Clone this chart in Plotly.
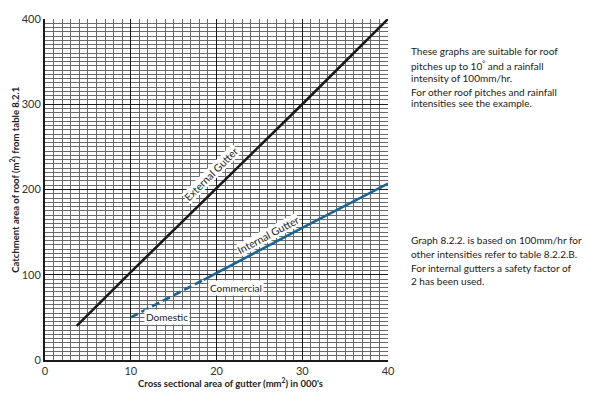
import plotly.graph_objects as go

# ---- data ----
external_x = [3.7, 10, 30, 40]
external_y = [40, 103, 300, 400]
domestic_x = [10, 18.5]
domestic_y = [50, 94]
commercial_x = [18.5, 20, 30, 40]
commercial_y = [94, 102, 155, 207]
x_ticks = [0, 10, 20, 30, 40]
y_ticks = [0, 100, 200, 300, 400]

FONT = "Lato"
BLUE = "#1c6396"
TXT = "#222222"

fig = go.Figure()
fig.add_trace(go.Scatter(x=external_x, y=external_y, mode="lines",
                         line=dict(color="#1a1a1a", width=2.6), hoverinfo="skip"))
fig.add_trace(go.Scatter(x=domestic_x, y=domestic_y, mode="lines",
                         line=dict(color=BLUE, width=2.6, dash="8px,4px"), hoverinfo="skip"))
fig.add_trace(go.Scatter(x=commercial_x, y=commercial_y, mode="lines",
                         line=dict(color=BLUE, width=2.6), hoverinfo="skip"))

axis_common = dict(showline=True, linecolor="#1a1a1a", linewidth=2, zeroline=False,
                   gridcolor="#1a1a1a", gridwidth=1.4, ticks="",
                   tickfont=dict(family=FONT, size=11, color="#333333"))

fig.update_xaxes(range=[0, 40], tickvals=x_ticks, ticktext=[str(v) for v in x_ticks],
                 minor=dict(dtick=1, showgrid=True, gridcolor="#6a6a6a", gridwidth=0.8),
                 **axis_common)
fig.update_yaxes(range=[0, 400], tickvals=y_ticks, ticktext=[str(v) for v in y_ticks],
                 minor=dict(dtick=5, showgrid=True, gridcolor="#6a6a6a", gridwidth=0.8),
                 **axis_common)

L, R, T, B = 45, 201, 12, 37
W, H = 589, 397
pw, ph = W - L - R, H - T - B

def px_to_paper(xp, yp):
    return (xp - L) / pw, (H - yp - B) / ph

ann = []
# axis titles
xt_x, xt_y = px_to_paper(230, 383)
ann.append(dict(x=xt_x, y=xt_y, xref="paper", yref="paper", xanchor="center", yanchor="middle",
                text="<b>Cross sectional area of gutter (mm<sup>2</sup>) in 000's</b>",
                showarrow=False, font=dict(family=FONT, size=9.5, color=TXT)))
yt_x, yt_y = px_to_paper(15, 176)
ann.append(dict(x=yt_x, y=yt_y, xref="paper", yref="paper", xanchor="center", yanchor="middle",
                text="<b>Catchment area of roof (m<sup>2</sup>) from table 8.2.1</b>", textangle=-90,
                showarrow=False, font=dict(family=FONT, size=9.5, color=TXT)))
# line labels
ann.append(dict(x=19.4, y=218, text="External Gutter", textangle=-45, showarrow=False,
                bgcolor="white", borderpad=0, font=dict(family=FONT, size=10.5, color=TXT)))
ann.append(dict(x=26.0, y=147, text="Internal Gutter", textangle=-28, showarrow=False,
                bgcolor="white", borderpad=0, font=dict(family=FONT, size=10.5, color=TXT)))
ann.append(dict(x=22.3, y=85, text="Commercial", showarrow=False,
                bgcolor="white", borderpad=1, font=dict(family=FONT, size=10, color=TXT)))
ann.append(dict(x=14.2, y=50, text="Domestic", showarrow=False,
                bgcolor="white", borderpad=1, font=dict(family=FONT, size=10, color=TXT)))

# side notes, one annotation per line: (text, centre y in px)
note_lines = [
    ("These graphs are suitable for roof", 45),
    ("pitches up to 10<sup>°</sup> and a rainfall", 59),
    ("intensity of 100mm/hr.", 72),
    ("For other roof pitches and rainfall", 86),
    ("intensities see the example.", 98),
    ("Graph 8.2.2. is based on 100mm/hr for", 238),
    ("other intensities refer to table 8.2.2.B.", 252),
    ("For internal gutters a safety factor of", 266),
    ("2 has been used.", 279),
]
for txt, yp in note_lines:
    xpap, ypap = px_to_paper(409, yp)
    ann.append(dict(x=xpap, y=ypap, xref="paper", yref="paper", text=txt, showarrow=False,
                    align="left", xanchor="left", yanchor="middle",
                    font=dict(family=FONT, size=10, color=TXT)))

fig.update_layout(width=W, height=H, margin=dict(l=L, r=R, t=T, b=B),
                  plot_bgcolor="white", paper_bgcolor="white", showlegend=False,
                  annotations=ann)
fig.write_html("out.html", config={"displayModeBar": False},
               post_script="document.body.style.margin='0px';")
